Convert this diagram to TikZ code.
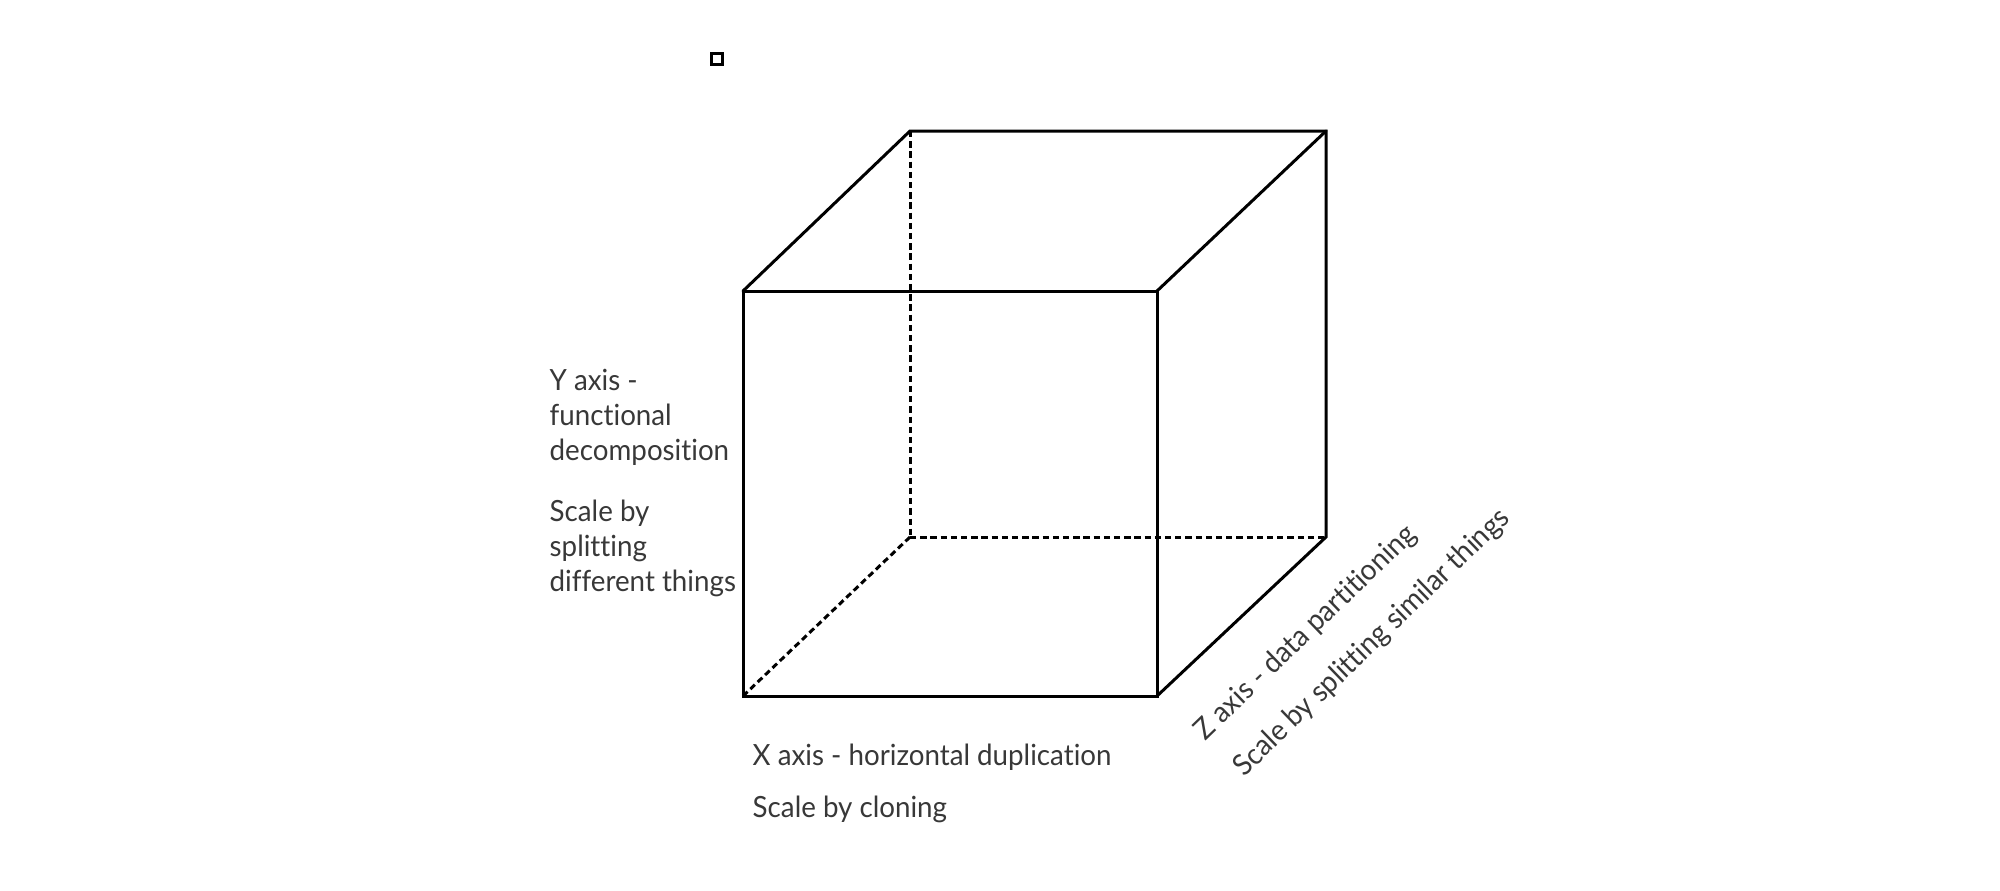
\documentclass[tikz,border=0pt]{standalone}
\usepackage{fontspec}
\setmainfont{Lato}[Ligatures={NoCommon},FakeStretch=0.95]
\begin{document}
\begin{tikzpicture}[x=0.01cm,y=-0.01cm,
  edge/.style={line width=0.85pt,line cap=round,line join=miter},
  hidden/.style={line width=0.85pt,dash pattern=on 1.8pt off 1.1pt},
  lbl/.style={font=\fontsize{8.3}{10}\selectfont,text=black!78,inner sep=0pt},
]
\useasboundingbox (0,0) rectangle (2000,890);
% cube corners
\coordinate (FTL) at (743,291);
\coordinate (FTR) at (1157,291);
\coordinate (FBR) at (1157,696);
\coordinate (FBL) at (743,696);
\coordinate (BTL) at (910,131);
\coordinate (BTR) at (1326,131);
\coordinate (BBR) at (1326,537);
\coordinate (BBL) at (910,537);
% visible edges
\draw[edge] (FTL) -- (FTR) -- (FBR) -- (FBL) -- cycle;
\draw[edge] (FTL) -- (BTL) -- (BTR) -- (BBR) -- (FBR);
\draw[edge] (FTR) -- (BTR);
% hidden edges
\draw[hidden] (BTL) -- (BBL);
\draw[hidden] (BBL) -- (BBR);
\draw[hidden] (BBL) -- (FBL);
% small square
\node[draw,line width=0.6pt,minimum size=0.11cm,inner sep=0pt] (sq) at (717,59) {};
% labels
\node[lbl,anchor=base west] (y1) at (549,390) {Y axis -};
\node[lbl,anchor=base west] (y2) at (549,425) {functional};
\node[lbl,anchor=base west] (y3) at (549,460) {decomposition};
\node[lbl,anchor=base west] (y4) at (549,521) {Scale by};
\node[lbl,anchor=base west] (y5) at (549,556) {splitting};
\node[lbl,anchor=base west] (y6) at (549,591) {different things};
\node[lbl,anchor=base west] (x1) at (752,765) {X axis - horizontal duplication};
\node[lbl,anchor=base west] (x2) at (752,817) {Scale by cloning};
\node[lbl,rotate=44] (z1) at (1306,633) {Z axis - data partitioning};
\node[lbl,rotate=44] (z2) at (1372,643) {Scale by splitting similar things};
\end{tikzpicture}
\end{document}
